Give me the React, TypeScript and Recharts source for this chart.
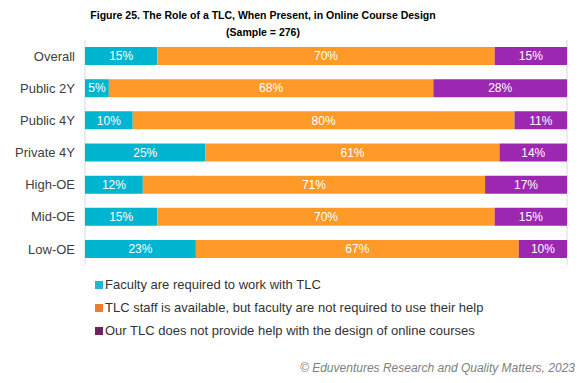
import { BarChart, Bar, XAxis, YAxis, CartesianGrid, LabelList } from 'recharts'

const categories = ['Overall', 'Public 2Y', 'Public 4Y', 'Private 4Y', 'High-OE', 'Mid-OE', 'Low-OE']
const required = [15, 5, 10, 25, 12, 15, 23]
const available = [70, 68, 80, 61, 71, 70, 67]
const noHelp = [15, 28, 11, 14, 17, 15, 10]

const seriesNames = [
  'Faculty are required to work with TLC',
  'TLC staff is available, but faculty are not required to use their help',
  'Our TLC does not provide help with the design of online courses',
]
const barColors = ['#00b5cf', '#ff9a28', '#9c27b0']
const legendColors = ['#1fb8d2', '#ed7d31', '#722160']
const xTicks = [0, 0.2, 0.4, 0.6, 0.8, 1]

const data = categories.map((name, i) => ({
  name,
  required: required[i],
  available: available[i],
  noHelp: noHelp[i],
}))

const font = '"Liberation Sans", Arial, sans-serif'

export default function App() {
  const keys = ['required', 'available', 'noHelp']
  return (
    <div style={{ position: 'absolute', left: 0, top: 0, width: 580, height: 383, background: '#fff', fontFamily: font }}>
      <div
        style={{
          position: 'absolute',
          left: 0,
          width: 526,
          top: 7,
          textAlign: 'center',
          fontWeight: 700,
          fontSize: 10.5,
          lineHeight: '17px',
          color: '#000',
        }}
      >
        Figure 25. The Role of a TLC, When Present, in Online Course Design
        <br />
        (Sample = 276)
      </div>

      <BarChart
        width={580}
        height={270}
        data={data}
        layout="vertical"
        stackOffset="expand"
        barCategoryGap="22%"
        margin={{ top: 40, right: 13, bottom: 5, left: 0 }}
      >
        <CartesianGrid horizontal={false} stroke="#d9d9d9" />
        <XAxis type="number" domain={[0, 1]} ticks={xTicks} tick={false} axisLine={false} tickLine={false} height={0} />
        <YAxis
          type="category"
          dataKey="name"
          width={85}
          axisLine={false}
          tickLine={false}
          tickMargin={4}
          tick={{ fontSize: 13, fill: '#404040', fontFamily: font }}
        />
        {keys.map((k, i) => (
          <Bar key={k} dataKey={k} stackId="a" fill={barColors[i]} isAnimationActive={false}>
            <LabelList
              dataKey={k}
              position="center"
              formatter={(v: any) => `${v}%`}
              style={{ fill: '#fff', fontSize: 12, fontFamily: font }}
            />
          </Bar>
        ))}
      </BarChart>

      <div style={{ position: 'absolute', left: 95, top: 273 }}>
        {seriesNames.map((s, i) => (
          <div key={s} style={{ display: 'flex', alignItems: 'center', height: 23, fontSize: 13, color: '#333' }}>
            <span style={{ width: 8, height: 8, background: legendColors[i], marginRight: 2, display: 'inline-block' }} />
            {s}
          </div>
        ))}
      </div>

      <div
        style={{
          position: 'absolute',
          right: 5,
          top: 361,
          fontStyle: 'italic',
          fontSize: 12,
          color: '#808080',
        }}
      >
        © Eduventures Research and Quality Matters, 2023
      </div>
    </div>
  )
}
